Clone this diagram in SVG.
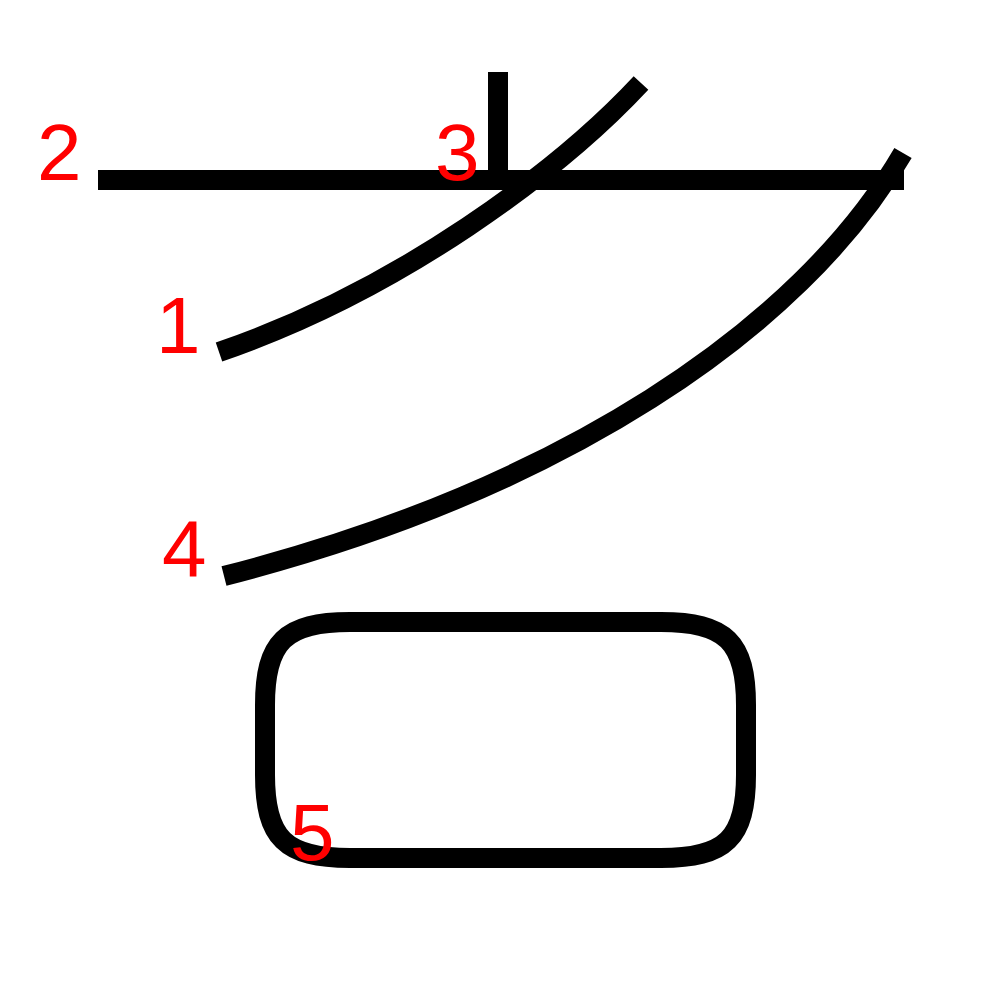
<svg xmlns="http://www.w3.org/2000/svg" width="1000" height="1000" viewBox="0 0 1000 1000">
<style>
.s{fill:none;stroke:#000;stroke-width:20}
.n{fill:#f00;font-family:"Liberation Sans",Arial,sans-serif;font-size:80px}
</style>
<rect width="1000" height="1000" fill="#fff"/>
<g id="strokes">
<g id="s1"><path class="s" d="M641,83 C560,170 400,290 219,352"/></g>
<g id="s2"><path class="s" d="M98,180 L904,180"/></g>
<g id="s3"><path class="s" d="M498,72 L498,180"/></g>
<g id="s4"><path class="s" d="M903,153 C800,330 560,490 224,576"/></g>
<g id="s5"><path class="s" d="M265,705 C265,642 285,622 350,622 L661,622 C726,622 746,642 746,705 L746,775 C746,838 726,858 661,858 L350,858 C285,858 265,838 265,775 Z"/></g>
</g>
<g id="numbers">
<text class="n" x="156" y="353">1</text>
<text class="n" x="37" y="180">2</text>
<text class="n" x="435" y="180">3</text>
<text class="n" x="162" y="576">4</text>
<text class="n" x="290" y="860">5</text>
</g>
</svg>
